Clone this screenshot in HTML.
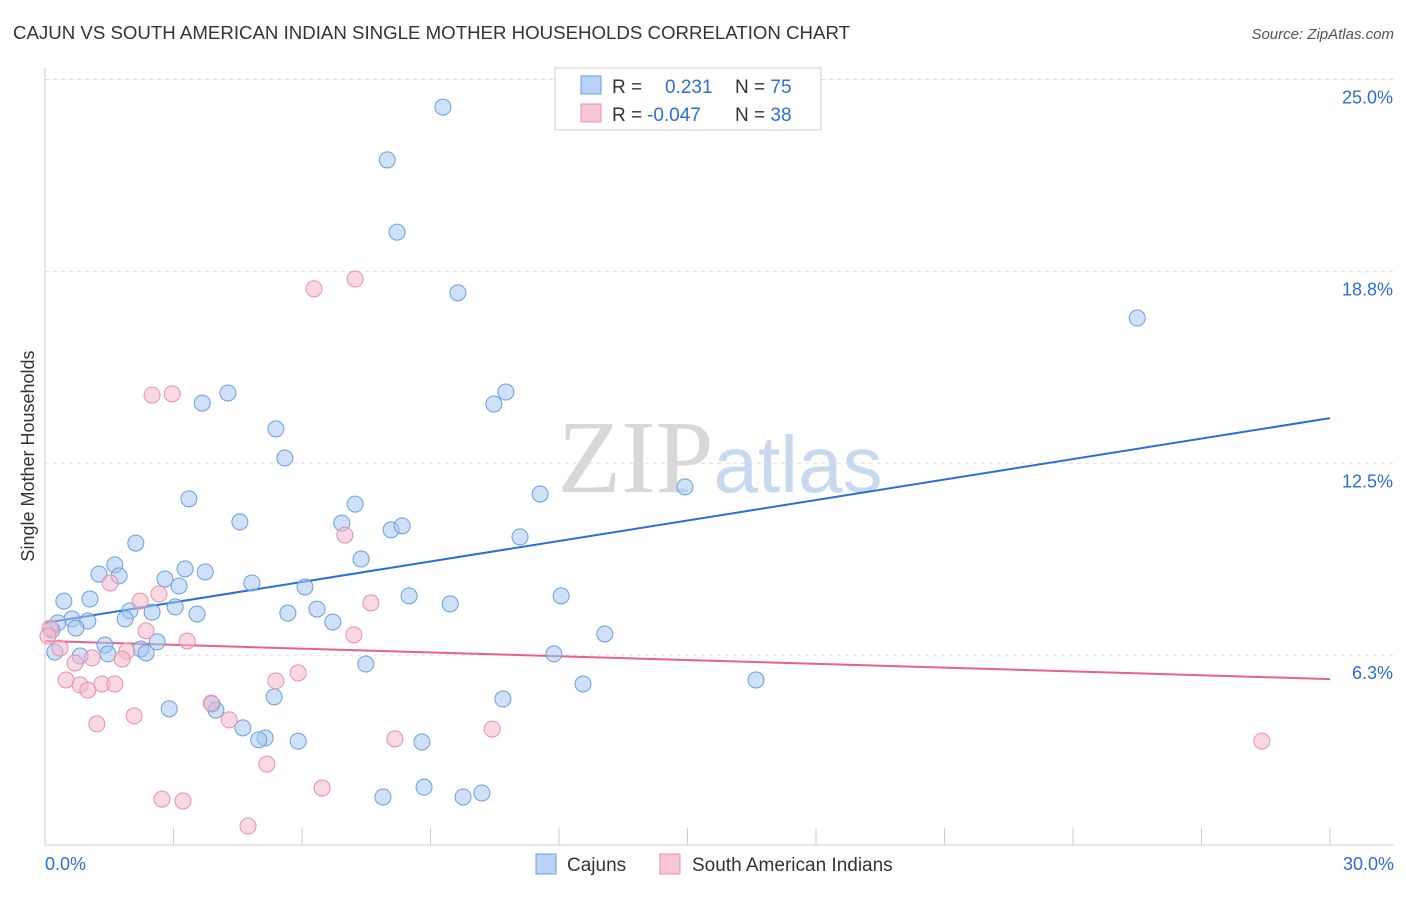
<!DOCTYPE html>
<html><head><meta charset="utf-8"><style>
body{margin:0;background:#fff;font-family:"Liberation Sans",sans-serif;}
svg text{font-family:"Liberation Sans",sans-serif;}
</style></head><body>
<svg id="chart" width="1406" height="892" xmlns="http://www.w3.org/2000/svg">
<text x="13" y="39" font-size="18" fill="#333" textLength="837" lengthAdjust="spacingAndGlyphs">CAJUN VS SOUTH AMERICAN INDIAN SINGLE MOTHER HOUSEHOLDS CORRELATION CHART</text>
<text x="1394" y="39" font-size="15" fill="#555" text-anchor="end" font-style="italic">Source: ZipAtlas.com</text>
<text x="720" y="492" font-size="104" text-anchor="middle"><tspan font-family="Liberation Serif" fill="#d8d8d8">ZIP</tspan><tspan fill="#c8d9ef" font-size="80">atlas</tspan></text>
<text transform="translate(34,456) rotate(-90)" font-size="18" fill="#333" text-anchor="middle">Single Mother Households</text>
<g id="grid"></g><g id="axes"></g><g id="lines"></g><g id="pts"></g>
<g>
<rect x="555" y="68" width="266" height="62" fill="#fff" stroke="#ccc"/>
<rect x="581" y="76" width="20" height="18" fill="#b8d3f5" stroke="#6a9ee0"/>
<rect x="581" y="104" width="20" height="18" fill="#f8c6d5" stroke="#e890a8"/>
<text x="612" y="93" font-size="19" fill="#333">R = <tspan fill="#2a6fd6" x="665">0.231</tspan><tspan x="735" fill="#333">N = </tspan><tspan fill="#2a6fd6">75</tspan></text>
<text x="612" y="121" font-size="19" fill="#333">R = <tspan fill="#2a6fd6" x="647">-0.047</tspan><tspan x="735" fill="#333">N = </tspan><tspan fill="#2a6fd6">38</tspan></text>
</g>
<g>
<rect x="536" y="854" width="20" height="20" fill="#b8d3f5" stroke="#6a9ee0"/>
<text x="567" y="871" font-size="19" fill="#333">Cajuns</text>
<rect x="660" y="854" width="20" height="20" fill="#f8c6d5" stroke="#e890a8"/>
<text x="692" y="871" font-size="19" fill="#333">South American Indians</text>
</g>
</svg>
<script>
const yTicks=[25,18.75,12.5,6.25];
const yTickLabels=["25.0%","18.8%","12.5%","6.3%"];
const xTicks=[0,3,6,9,12,15,18,21,24,27,30];
const blueX=[9.29,7.99,8.22,9.64,25.50,4.27,3.67,10.76,10.48,5.39,5.60,14.94,3.36,11.56,7.24,4.55,6.93,8.08,8.34,11.09,2.12,1.63,7.38,1.26,1.73,3.27,3.74,2.80,3.13,4.83,6.07,0.44,1.05,8.50,12.05,9.46,1.98,2.50,3.04,3.55,5.67,6.35,0.63,1.00,1.87,0.30,0.72,6.72,13.07,0.16,1.40,2.62,0.23,0.82,1.47,2.24,2.36,11.88,7.49,12.56,16.60,5.35,10.69,2.90,3.90,3.99,4.62,5.14,4.99,5.91,8.80,8.85,7.89,9.76,10.20];
const blueY=[24.10,22.38,20.03,18.05,17.23,14.79,14.46,14.82,14.43,13.62,12.67,11.73,11.34,11.50,11.17,10.59,10.55,10.33,10.46,10.10,9.90,9.19,9.38,8.89,8.83,9.06,8.96,8.73,8.50,8.60,8.47,8.01,8.08,8.18,8.18,7.92,7.69,7.65,7.82,7.59,7.62,7.75,7.43,7.36,7.43,7.30,7.13,7.33,6.94,7.07,6.58,6.68,6.35,6.22,6.29,6.45,6.32,6.29,5.96,5.31,5.44,4.89,4.82,4.50,4.66,4.46,3.88,3.55,3.49,3.45,3.42,1.95,1.63,1.63,1.76];
const pinkX=[7.24,6.28,2.50,2.97,7.00,1.52,2.66,2.22,7.61,2.36,7.21,3.32,0.12,0.07,0.35,1.91,1.10,1.80,0.70,5.91,0.49,0.82,1.00,1.33,1.63,5.39,3.88,2.08,4.30,1.21,10.44,8.17,28.41,5.18,6.47,2.73,3.22,4.74];
const pinkY=[18.50,18.18,14.72,14.76,10.16,8.60,8.24,8.01,7.95,7.04,6.91,6.71,7.13,6.87,6.48,6.38,6.16,6.12,5.99,5.67,5.44,5.28,5.11,5.31,5.31,5.41,4.69,4.27,4.14,4.01,3.84,3.52,3.45,2.70,1.92,1.56,1.50,0.68];
const blueFit=[7.3,13.97];
const pinkFit=[6.71,5.47];
const X=v=>45+v*42.833, Y=v=>847-v*30.7;
const NS="http://www.w3.org/2000/svg";
function mk(t,a,p){const e=document.createElementNS(NS,t);for(const k in a)e.setAttribute(k,a[k]);document.getElementById(p).appendChild(e);return e;}
yTicks.forEach((t,i)=>{
 const l=mk('line',{x1:45,x2:1394,y1:Y(t),y2:Y(t),stroke:'#ddd','stroke-dasharray':'4,4'},'grid');
 
 
 const tx=mk('text',{x:1393,y:Y(t)+24,'font-size':18,fill:'#2a6fd6','text-anchor':'end'},'grid');
 tx.textContent=yTickLabels[i];
 
 
});
const ax=mk('line',{x1:45,x2:45,y1:68,y2:845,stroke:'#ccc'},'axes');


const bx=mk('line',{x1:45,x2:1394,y1:845,y2:845,stroke:'#ccc'},'axes');


xTicks.forEach(t=>{
 const l=mk('line',{x1:X(t),x2:X(t),y1:828,y2:845,stroke:'#ccc'},'axes');
 
 
});
[[0,"0.0%",'start',45],[30,"30.0%",'end',1394]].forEach(d=>{
 const t=mk('text',{x:d[3],y:870,'font-size':18,fill:'#2a6fd6','text-anchor':d[2]},'axes');
 t.textContent=d[1];
 
 
});
function dots(xs,ys,fill,stroke,name){xs.forEach((x,i)=>{
 const c=mk('circle',{cx:X(x),cy:Y(ys[i]),r:8,fill:fill,'fill-opacity':0.55,stroke:stroke,'stroke-width':1},'pts');
 
 
});}
dots(blueX,blueY,'#a8c8f0','#6a9ee0','cajun-point');
dots(pinkX,pinkY,'#f5b8cb','#e890a8','south-american-indian-point');
const bl=mk('line',{x1:X(0),y1:Y(blueFit[0]),x2:X(30),y2:Y(blueFit[1]),stroke:'#2a6fd6','stroke-width':2},'lines');


const pl=mk('line',{x1:X(0),y1:Y(pinkFit[0]),x2:X(30),y2:Y(pinkFit[1]),stroke:'#e8608f','stroke-width':2},'lines');


</script>
</body></html>
